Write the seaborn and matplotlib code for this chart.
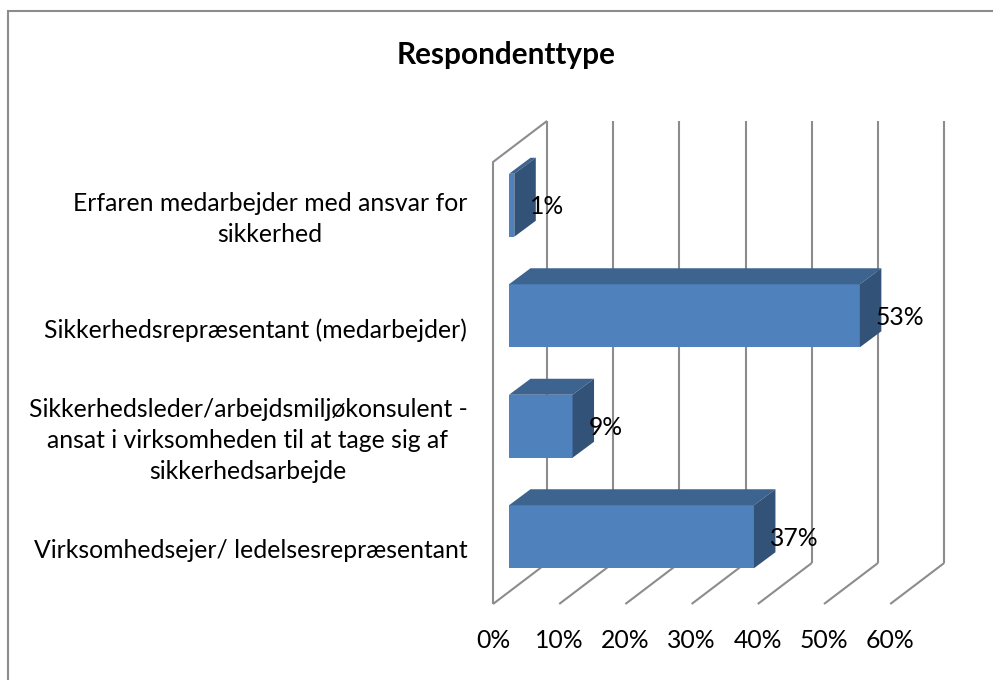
import matplotlib
matplotlib.use("Agg")
import matplotlib.pyplot as plt
import matplotlib.transforms as mtrans
from matplotlib.patches import Polygon, Rectangle
import pandas as pd
import seaborn as sns

categories = [
    "Erfaren medarbejder med ansvar for\nsikkerhed",
    "Sikkerhedsrepræsentant (medarbejder)",
    "Sikkerhedsleder/arbejdsmiljøkonsulent -\nansat i virksomheden til at tage sig af\nsikkerhedsarbejde",
    "Virksomhedsejer/ ledelsesrepræsentant",
]
values = [0.8, 53.0, 9.6, 37.0]
value_labels = ["1%", "53%", "9%", "37%"]
ticks = [0, 10, 20, 30, 40, 50, 60]
tick_labels = ["0%", "10%", "20%", "30%", "40%", "50%", "60%"]

W, H = 993, 680
FRONT_COLOR = "#4f81bd"
TOP_COLOR = "#3d638f"
SIDE_COLOR = "#335278"
GRID_COLOR = "#8c8c8c"
FONT_SIZE = 17.8

sns.set_theme(style="white")
plt.rcParams["font.family"] = ["Lato", "DejaVu Sans"]

fig = plt.figure(figsize=(W / 100, H / 100), dpi=100)
# axes cover the plane of the bar fronts, depth is faked with pixel offsets
ax = fig.add_axes([509 / W, 1 - 592 / H, 397.2 / W, 442 / H])

df = pd.DataFrame({"kategori": categories, "andel": values})
sns.barplot(data=df, x="andel", y="kategori", orient="h", color=FRONT_COLOR,
            saturation=1, width=0.57, linewidth=0, ax=ax, zorder=3)
ax.set_xlim(0, 60)
ax.set_ylim(3.5, -0.5)
ax.set_xlabel("")
ax.set_ylabel("")
sns.despine(ax=ax, left=True, bottom=True)


def shifted(dx, dy):
    return ax.transData + mtrans.Affine2D().translate(dx, dy)


front = shifted(-16, -12)   # front edge of the floor
back = shifted(38, 29)      # back wall

# walls and floor lines
line_style = dict(color=GRID_COLOR, lw=1.5, clip_on=False, zorder=1, solid_capstyle="butt")


def to_plane(x, y, tr):
    return ax.transData.inverted().transform(tr.transform((x, y)))


for t in ticks:
    p0 = to_plane(t, 3.5, back)
    p1 = to_plane(t, -0.5, back)
    ax.plot([p0[0], p1[0]], [p0[1], p1[1]], **line_style)
    f0 = to_plane(t, 3.5, front)
    ax.plot([f0[0], p0[0]], [f0[1], p0[1]], **line_style)

l0 = to_plane(0, 3.5, front)
l1 = to_plane(0, -0.5, front)
b1 = to_plane(0, -0.5, back)
ax.plot([l0[0], l1[0], b1[0]], [l0[1], l1[1], b1[1]], **line_style)

# top and side faces of each bar
for bar, lab in zip(ax.patches, value_labels):
    x0 = bar.get_x()
    x1 = x0 + bar.get_width()
    y0 = bar.get_y()
    y1 = y0 + bar.get_height()
    deep = shifted(21.5, 16)
    tl = to_plane(x0, y0, deep)
    tr = to_plane(x1, y0, deep)
    br = to_plane(x1, y1, deep)
    ax.add_patch(Polygon([(x0, y0), (x1, y0), tr, tl], closed=True, facecolor=TOP_COLOR,
                         edgecolor="none", clip_on=False, zorder=3))
    ax.add_patch(Polygon([(x1, y0), tr, br, (x1, y1)], closed=True, facecolor=SIDE_COLOR,
                         edgecolor="none", clip_on=False, zorder=3))
    bar.set_clip_on(False)
    ax.annotate(lab, xy=(x1, (y0 + y1) / 2), xytext=(11.5, -1.2), textcoords="offset points",
                ha="left", va="center", fontsize=FONT_SIZE, color="black", zorder=5,
                annotation_clip=False)

# tick labels belong to the front edge of the floor
ax.set_xticks(ticks)
ax.set_xticklabels(tick_labels, fontsize=FONT_SIZE, color="black")
ax.tick_params(axis="x", bottom=False, pad=20.5)
for lab in ax.get_xticklabels():
    lab.set_transform(lab.get_transform() + mtrans.Affine2D().translate(-16, 0))
ax.tick_params(axis="y", left=False, pad=24)
for lab in ax.get_yticklabels():
    lab.set_fontsize(FONT_SIZE)
    lab.set_color("black")
    lab.set_verticalalignment("center")
    lab.set_multialignment("center")
    lab.set_linespacing(1.42)
    lab.set_transform(lab.get_transform() + mtrans.Affine2D().translate(0, -14))

fig.text(506.5 / W, 1 - 55 / H, "Respondenttype", ha="center", va="center",
         fontsize=21.4, fontweight="bold", color="black")
# frame is cut off by the picture on the right and at the bottom
fig.add_artist(Rectangle((8 / W, 1 - (11 + H) / H), 1, 1, transform=fig.transFigure,
                         fill=False, edgecolor="#8c8c8c", lw=1.5))

fig.savefig("out.png", dpi=100)
